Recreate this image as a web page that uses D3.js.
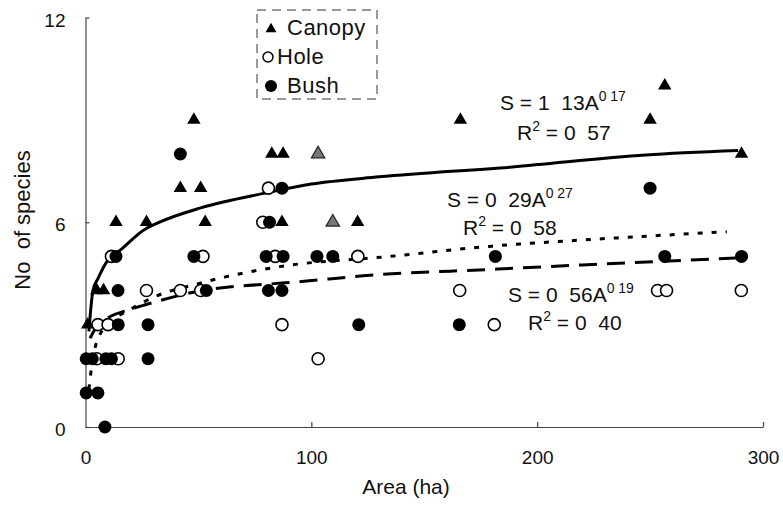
<!DOCTYPE html>
<html>
<head>
<meta charset="utf-8">
<script src="https://cdn.jsdelivr.net/npm/d3@7.9.0/dist/d3.min.js"></script>
<style>
  html, body { margin: 0; padding: 0; background: #fff; }
  svg { display: block; font-family: "Liberation Sans", Arial, sans-serif; }
  .axis path, .axis line { stroke: #444; stroke-width: 1.2; }
  .axis text { font-size: 19px; fill: #111; font-family: "Liberation Sans", Arial, sans-serif; }
</style>
</head>
<body>
<svg id="chart" width="783" height="507"></svg>
<script>
const canopyArea    = [1, 5, 8, 13.5, 27, 42, 48, 51, 53, 82.5, 87.5, 87, 120.5, 166, 250, 256.5, 290.5];
const canopySpecies = [3, 4, 4, 6,    6,  7,  9,  7,  6,  8,    8,    6,  6,     9,   9,   10,    8];
// the two hatched (grey) triangles
const canopyGreyArea    = [103, 109.5];
const canopyGreySpecies = [8,   6];

const holeArea    = [5.5, 10, 5, 14.5, 11.5, 27, 42, 51, 52, 78.5, 81, 84, 87, 103, 120.6, 165.7, 181, 253.3, 257.3, 290.4];
const holeSpecies = [3,   3,  2, 2,    5,    4,  4,  4,  5,  6,    7,  5,  3,  2,   5,     4,     3,   4,     4,     4];

const bushArea    = [8.6, 0.3, 5.5, 0.3, 3, 9, 11.5, 27.7, 14.5, 27.7, 121, 165.5, 14.4, 53.5, 81, 87, 13.5, 48, 80, 87.5, 102.5, 109.5, 181.5, 256.5, 290.5, 81.5, 87, 250, 42];
const bushSpecies = [0,   1,   1,   2,   2, 2, 2,    2,    3,    3,    3,   3,     4,    4,    4,  4,  5,    5,  5,  5,    5,     5,     5,     5,     5,     6,    7,  7,   8];

// fitted curves as drawn in the figure
const canopyFitArea    = [1.5, 3.3, 5.5, 10,  15.7, 26,   32,   51,   80,   100,  130,  189,  248,  289];
const canopyFitSpecies = [2.8, 4.0, 4.35, 4.9, 5.2, 5.78, 5.98, 6.42, 6.86, 7.12, 7.33, 7.62, 7.97, 8.1];

const holeFitArea    = [1.5, 3,   5,   10,  20,   30,  50,  62,  86,  135, 180, 220,  284];
const holeFitSpecies = [1.1, 1.9, 2.5, 3.0, 3.45, 3.8, 4.2, 4.4, 4.7, 5.0, 5.3, 5.48, 5.72];

const bushFitArea    = [2,   5,    10,  20,   30,   50,   93.5, 108,  123,  180,  220,  288];
const bushFitSpecies = [2.6, 2.95, 3.2, 3.45, 3.65, 3.98, 4.25, 4.34, 4.43, 4.62, 4.75, 4.95];

const xTicks = [0, 100, 200, 300];
const yTicks = [0, 6, 12];

const legendLabels = ["Canopy", "Hole", "Bush"];

const svg = d3.select("#chart");

const x = d3.scaleLinear().domain([0, 300]).range([85.5, 763]);
const y = d3.scaleLinear().domain([0, 12]).range([427, 17.5]);

const zip = (a, b) => a.map((v, i) => [v, b[i]]);

// axes
svg.append("g")
  .attr("class", "axis")
  .attr("transform", `translate(0,${y(0)})`)
  .call(d3.axisBottom(x).tickValues(xTicks).tickSizeInner(-5).tickSizeOuter(0).tickPadding(24))
  .call(g => g.selectAll(".tick").filter(d => d === 0).select("line").remove());

svg.append("g")
  .attr("class", "axis")
  .attr("transform", `translate(${x(0)},0)`)
  .call(d3.axisLeft(y).tickValues(yTicks).tickSizeInner(-4).tickSizeOuter(0).tickPadding(20))
  .call(g => g.selectAll(".tick text").attr("dy", "0.45em"));

// axis titles
svg.append("text")
  .attr("x", 406).attr("y", 494)
  .attr("text-anchor", "middle")
  .style("font-size", "21px").attr("fill", "#111")
  .text("Area (ha)");

svg.append("text")
  .attr("transform", "translate(30,220) rotate(-90)")
  .attr("text-anchor", "middle")
  .style("font-size", "22px").attr("fill", "#111")
  .text("No  of species");

// fitted curves
const line = d3.line().x(d => x(d[0])).y(d => y(d[1])).curve(d3.curveMonotoneX);

svg.append("path")
  .attr("d", line(zip(canopyFitArea, canopyFitSpecies)))
  .attr("fill", "none").attr("stroke", "#000").attr("stroke-width", 3);

svg.append("path")
  .attr("d", line(zip(holeFitArea, holeFitSpecies)))
  .attr("fill", "none").attr("stroke", "#000").attr("stroke-width", 3)
  .attr("stroke-dasharray", "5,9");

svg.append("path")
  .attr("d", line(zip(bushFitArea, bushFitSpecies)))
  .attr("fill", "none").attr("stroke", "#000").attr("stroke-width", 3)
  .attr("stroke-dasharray", "18,10");

// points
const tri = d3.symbol().type(d3.symbolTriangle).size(78);

svg.append("g").selectAll("circle")
  .data(zip(holeArea, holeSpecies))
  .join("circle")
  .attr("cx", d => x(d[0])).attr("cy", d => y(d[1])).attr("r", 6)
  .attr("fill", "#fff").attr("stroke", "#000").attr("stroke-width", 1.6);

svg.append("g").selectAll("circle")
  .data(zip(bushArea, bushSpecies))
  .join("circle")
  .attr("cx", d => x(d[0])).attr("cy", d => y(d[1])).attr("r", 6.5)
  .attr("fill", "#000");

svg.append("g").selectAll("path")
  .data(zip(canopyArea, canopySpecies))
  .join("path")
  .attr("d", tri)
  .attr("transform", d => `translate(${x(d[0])},${y(d[1])})`)
  .attr("fill", "#000");

svg.append("g").selectAll("path")
  .data(zip(canopyGreyArea, canopyGreySpecies))
  .join("path")
  .attr("d", tri)
  .attr("transform", d => `translate(${x(d[0])},${y(d[1])})`)
  .attr("fill", "#777").attr("stroke", "#222").attr("stroke-width", 1.2);

// equations
function equation(px, py, base, sup) {
  const t = svg.append("text").attr("x", px).attr("y", py)
    .style("font-size", "21px").attr("fill", "#111");
  t.append("tspan").text(base);
  t.append("tspan").attr("dy", -9).style("font-size", "14px").text(sup);
}
function rsq(px, py, val) {
  const t = svg.append("text").attr("x", px).attr("y", py)
    .style("font-size", "21px").attr("fill", "#111");
  t.append("tspan").text("R");
  t.append("tspan").attr("dy", -9).style("font-size", "14px").text("2");
  t.append("tspan").attr("dy", 9).text(" = " + val);
}

equation(500, 110, "S = 1  13A", "0 17");
rsq(517, 140, "0  57");
equation(447, 207, "S = 0  29A", "0 27");
rsq(463, 235, "0  58");
equation(508, 302, "S = 0  56A", "0 19");
rsq(528, 330, "0  40");

// legend
const lg = svg.append("g");
lg.append("rect")
  .attr("x", 257).attr("y", 10).attr("width", 120).attr("height", 89)
  .attr("fill", "#fff").attr("stroke", "#333").attr("stroke-width", 1)
  .attr("stroke-dasharray", "9,6");

const legendY = [35, 64, 93];
lg.append("path")
  .attr("d", d3.symbol().type(d3.symbolTriangle).size(52)())
  .attr("transform", `translate(271,${legendY[0] - 6})`).attr("fill", "#000");
lg.append("circle").attr("cx", 268).attr("cy", legendY[1] - 7).attr("r", 5)
  .attr("fill", "#fff").attr("stroke", "#000").attr("stroke-width", 1.5);
lg.append("circle").attr("cx", 271).attr("cy", legendY[2] - 7).attr("r", 6)
  .attr("fill", "#000");

const legendX = [287, 277, 287];
lg.selectAll("text.lab")
  .data(legendLabels)
  .join("text")
  .attr("class", "lab")
  .attr("x", (d, i) => legendX[i]).attr("y", (d, i) => legendY[i])
  .style("font-size", "22px").style("letter-spacing", "0.5px").attr("fill", "#111")
  .text(d => d);

svg.selectAll("text").style("white-space", "pre");
</script>
</body>
</html>
